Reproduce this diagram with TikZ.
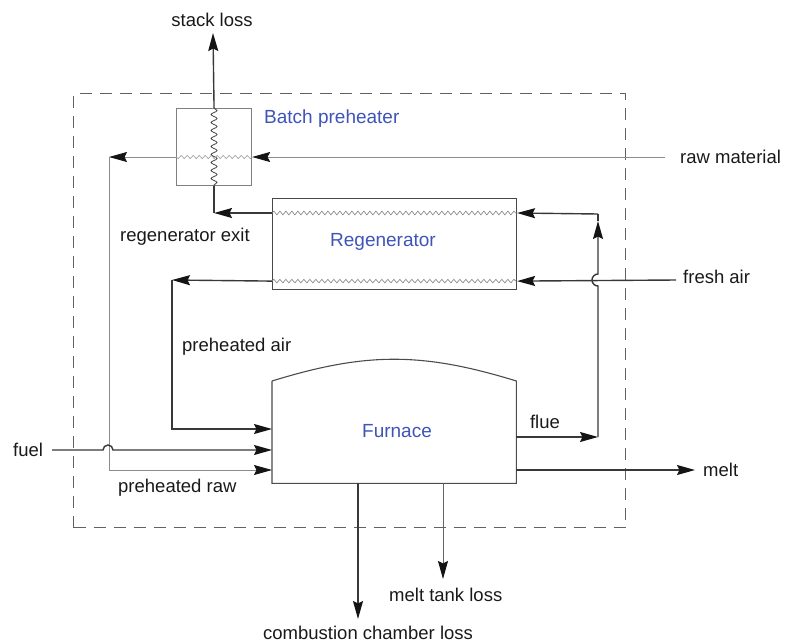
\documentclass[tikz,border=0pt]{standalone}
\usepackage{fontspec}
\setmainfont{Liberation Sans}
\usetikzlibrary{arrows.meta,decorations.pathmorphing,calc}
\definecolor{lblblue}{RGB}{62,84,184}
\definecolor{ink}{RGB}{25,25,25}
\tikzset{
  lbl/.style={font=\fontsize{18.5}{20}\selectfont, inner sep=0pt, text=ink, anchor=west},
  blbl/.style={font=\fontsize{19}{20}\selectfont, inner sep=0pt, text=lblblue},
  tip/.style={-{Stealth[length=18pt,width=10pt,inset=2.5pt,color=black!92]}},
  darkline/.style={draw=black!78, line width=1.4pt},
  greyline/.style={draw=black!45, line width=0.9pt},
  flow/.style={darkline, tip},
  greyflow/.style={greyline, tip},
  wavyreg/.style={draw=black!50, line width=0.6pt, decorate, decoration={snake, amplitude=1.8pt, segment length=6pt}},
  wavypre/.style={draw=black!75, line width=0.8pt, decorate, decoration={snake, amplitude=3pt, segment length=8pt}},
  wavyraw/.style={draw=black!40, line width=0.6pt, decorate, decoration={snake, amplitude=1.6pt, segment length=6pt}},
  boxed/.style={draw=black!50, line width=1.1pt, inner sep=0pt, anchor=north west},
}
\begin{document}
\begin{tikzpicture}[x=1pt,y=-1pt]
\useasboundingbox (0,0) rectangle (790,643);

% system boundary
\node[draw=black!62, line width=1.1pt, dash pattern=on 12pt off 8pt, minimum width=552pt, minimum height=434pt, inner sep=0pt, anchor=north west] (bound) at (73,93) {};

% units
\node[boxed, minimum width=75pt, minimum height=77pt] (pre) at (176,108) {};
\node[boxed, draw=black!72, minimum width=244pt, minimum height=91pt] (reg) at (272,198) {};
\node[inner sep=0pt, minimum width=244pt, minimum height=102pt, anchor=north west] (fur) at (272,381) {};
\draw[black!70, line width=1.1pt] (fur.north west) -- (fur.south west) -- (fur.south east) -- (fur.north east)
  .. controls ($(fur.north west)+(150,-29)$) and ($(fur.north west)+(94,-29)$) .. (fur.north west);

% labels
\node[lbl, anchor=center] (lstack) at (212,20) {stack loss};
\node[blbl, anchor=west] (lpre) at (264,119) {Batch preheater};
\node[blbl, anchor=west] (lreg) at (330,242) {Regenerator};
\node[blbl] (lfur) at (397,431) {Furnace};
\node[lbl] (lraw) at (680,157) {raw material};
\node[lbl] (lexit) at (120,237) {regenerator exit};
\node[lbl] (lfresh) at (683,277) {fresh air};
\node[lbl] (lpair) at (182,347) {preheated air};
\node[lbl, anchor=center] (lflue) at (545,422) {flue};
\node[lbl] (lmelt) at (703,470) {melt};
\node[lbl] (lfuel) at (13,450) {fuel};
\node[lbl] (lpraw) at (118,488) {preheated raw};
\node[lbl] (ltank) at (389,595) {melt tank loss};
\node[lbl] (lcomb) at (263,633) {combustion chamber loss};

% coordinates
\coordinate (stk) at (213,33);
\coordinate (rawin) at (665,157);
\coordinate (rawc) at (109,157);
\coordinate (regTL) at ($(reg.north west)+(0,15)$);
\coordinate (regTR) at ($(reg.north east)+(0,15)$);
\coordinate (regBL) at ($(reg.south west)+(0,-9)$);
\coordinate (regBR) at ($(reg.south east)+(0,-9)$);
\coordinate (exitc) at (pre.south |- regTL);
\coordinate (fain) at (676,280);
\coordinate (pac) at (172,280);
\coordinate (furA) at ($(fur.north west)+(0,48)$);
\coordinate (furF) at ($(fur.north west)+(0,69)$);
\coordinate (furR) at ($(fur.north west)+(0,89)$);
\coordinate (fuelin) at (52,450);
\coordinate (furFl) at ($(fur.north east)+(0,56)$);
\coordinate (flc) at (598,437);
\coordinate (flup) at (598,221);
\coordinate (fltop) at (598,214);
\coordinate (furM) at ($(fur.north east)+(0,89)$);
\coordinate (meltout) at (695,470);
\coordinate (cc1) at ($(fur.south west)+(86,0)$);
\coordinate (cc2) at (358,619);
\coordinate (mt1) at ($(fur.south west)+(171,0)$);
\coordinate (mt2) at (443,579);

% heat exchanger internals
\draw[wavyreg] (regTL) -- (regTR);
\draw[wavyreg] (regBL) -- (regBR);
\draw[wavypre] (pre.north) -- (pre.south);
\draw[wavyraw] (pre.east |- rawin) -- (pre.west |- rawin);

% stack loss
\draw[flow] (pre.north) -- (stk);
% regenerator exit
\draw[flow] (regTL) -- (exitc);
\draw[darkline] (exitc) -- (pre.south);
% raw material
\draw[greyflow] (rawin) -- (pre.east |- rawin);
\draw[greyflow] (pre.west |- rawin) -- (rawc);
\draw[greyflow] (rawc) |- (furR);
% fresh air
\draw[flow] (fain) -- (regBR);
% preheated air
\draw[flow] (regBL) -- (pac);
\draw[flow] (pac) |- (furA);
% fuel with hop
\draw[flow] (fuelin) -- (103,450) arc[start angle=180, end angle=0, radius=5pt] -- (furF);
% flue
\draw[flow] (furFl) -- (flc);
\draw[flow] (flc) -- (598,286) arc[start angle=270, end angle=90, radius=6pt] -- (flup);
\draw[darkline] (flup) -- (fltop);
\draw[flow] (fltop) -- (regTR);
% melt
\draw[flow] (furM) -- (meltout);
% losses
\draw[flow] (cc1) -- (cc2);
\draw[greyflow, draw=black!60] (mt1) -- (mt2);
\end{tikzpicture}
\end{document}
